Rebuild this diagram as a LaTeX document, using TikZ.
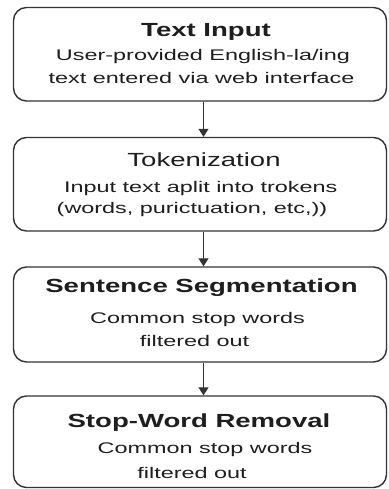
\documentclass[tikz,border=0pt]{standalone}
\usepackage{fontspec}
\setmainfont{Liberation Sans}
\newfontfamily\titlef[FakeStretch=1.45]{Liberation Sans}
\newfontfamily\bodyf[FakeStretch=1.52]{Liberation Sans}
\usetikzlibrary{arrows.meta}
\definecolor{boxc}{HTML}{333333}
\definecolor{txtc}{HTML}{1E1E1E}
\begin{document}
\begin{tikzpicture}[x=1pt,y=-1pt,
  box/.style={draw=boxc, line width=1.4pt, rounded corners=13pt, minimum width=373pt, inner sep=0pt},
  ttl/.style={anchor=base, inner sep=0pt, text=txtc, font=\titlef\fontsize{19}{19}\selectfont\bfseries},
  ttlr/.style={anchor=base, inner sep=0pt, text=txtc, font=\titlef\fontsize{19}{19}\selectfont},
  body/.style={anchor=base, inner sep=0pt, text=txtc, font=\bodyf\fontsize{15.4}{15.4}\selectfont},
  arr/.style={draw=boxc, line width=1.3pt, -{Triangle[width=10pt,length=8pt]}}]
\fill[white] (0,0) rectangle (388,489);
\useasboundingbox (0,0) rectangle (388,489);
% boxes
\node[box, minimum height=93.5pt] (b1) at (200,54.25) {};
\node[box, minimum height=93.5pt] (b2) at (200,184.25) {};
\node[box, minimum height=95pt] (b3) at (200,314.5) {};
\node[box, minimum height=91.5pt] (b4) at (200,441.75) {};
% arrows
\coordinate (ax) at (203.5,0);
\draw[arr] (b1.south -| ax) -- (b2.north -| ax);
\draw[arr] (b2.south -| ax) -- (b3.north -| ax);
\draw[arr] (b3.south -| ax) -- (b4.north -| ax);
% texts box 1
\node[ttl] (t1) at (206,37) {Text Input};
\node[body] (d1a) at (203,61) {User-provided English-la/ing};
\node[body] (d1b) at (201.5,84) {text entered via web interface};
% box 2
\node[ttlr] (t2) at (204,166) {Tokenization};
\node[body] (d2a) at (200.7,192) {Input text aplit into trokens};
\node[body] (d2b) at (192,213) {(words, purictuation, etc,))};
% box 3
\node[ttl] (t3) at (201.5,292) {Sentence Segmentation};
\node[body] (d3a) at (197.5,323) {Common stop words};
\node[body] (d3b) at (194.5,346) {filtered out};
% box 4
\node[ttl] (t4) at (199,427) {Stop-Word Removal};
\node[body] (d4a) at (205,453) {Common stop words};
\node[body] (d4b) at (192,478) {filtered out};
\end{tikzpicture}
\end{document}
